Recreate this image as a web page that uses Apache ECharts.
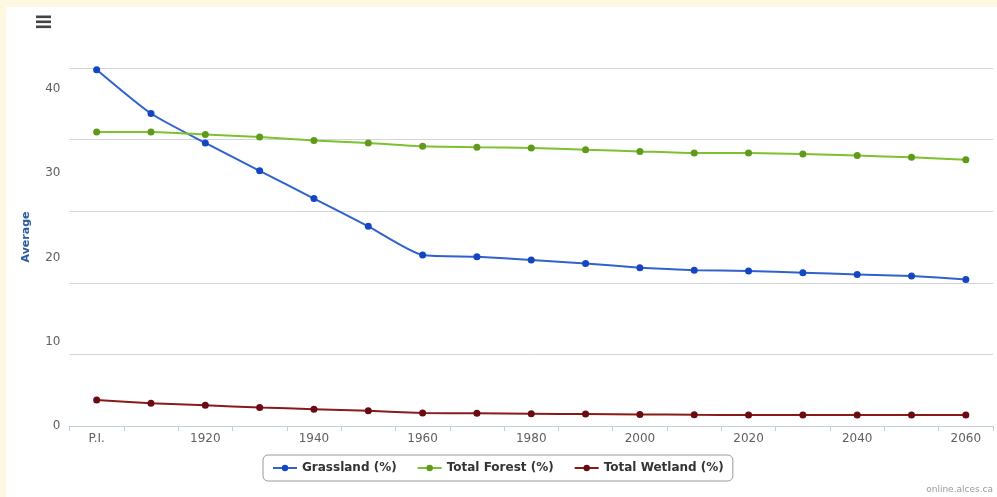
<!DOCTYPE html>
<html>
<head>
<meta charset="utf-8">
<script src="https://cdn.jsdelivr.net/npm/echarts@6/dist/echarts.min.js"></script>
<style>
html,body{margin:0;padding:0;background:#fdf8e2;}
#chart{width:997px;height:497px;}
</style>
</head>
<body>
<div id="chart"></div>
<script>
var categories = ['P.I.','1910','1920','1930','1940','1950','1960','1970','1980','1990','2000','2010','2020','2030','2040','2050','2060'];
var grassland = [42.3,37.1,33.6,30.3,27.0,23.7,20.3,20.1,19.7,19.3,18.8,18.5,18.4,18.2,18.0,17.8,17.4];
var forest = [34.9,34.9,34.6,34.3,33.9,33.6,33.2,33.1,33.0,32.8,32.6,32.4,32.4,32.3,32.1,31.9,31.6];
var wetland = [3.1,2.7,2.45,2.2,2.0,1.8,1.55,1.5,1.45,1.42,1.38,1.33,1.31,1.31,1.31,1.31,1.31];
var yTicks = [0,10,20,30,40];

var chart = echarts.init(document.getElementById('chart'), null, {renderer:'canvas'});
var font = 'DejaVu Sans';
chart.setOption({
  backgroundColor: '#fdf8e2',
  animation: false,
  graphic: [
    {type:'rect', z:-10, shape:{x:6,y:7,width:991,height:490}, style:{fill:'#ffffff'}},
    {type:'rect', shape:{x:36,y:15.5,width:15,height:2.6}, style:{fill:'#444'}},
    {type:'rect', shape:{x:36,y:20.5,width:15,height:2.6}, style:{fill:'#444'}},
    {type:'rect', shape:{x:36,y:25.5,width:15,height:2.6}, style:{fill:'#444'}},
    {type:'text', right:4, top:485, style:{text:'online.alces.ca', fill:'#9a9a9a', font:'9px ' + font}}
  ],
  grid: {left:69.5, right:4, top:68, bottom:71, containLabel:false},
  legend: {
    left: 263, top: 455,
    padding: [7, 9, 7, 9],
    borderColor: '#9a9a9a', borderWidth: 1, borderRadius: 5,
    backgroundColor: '#ffffff',
    itemGap: 20, itemWidth: 24, itemHeight: 8,
    textStyle: {fontFamily: font, fontWeight: 'bold', fontSize: 12, color: '#333'},
    data: ['Grassland (%)','Total Forest (%)','Total Wetland (%)']
  },
  xAxis: {
    type: 'category', data: categories, boundaryGap: true,
    axisLine: {lineStyle: {color: '#c0d0e0', width: 1}},
    axisTick: {show: true, interval: 0, length: 5, lineStyle: {color: '#c0d0e0'}},
    axisLabel: {interval: 1, color: '#606060', fontFamily: font, fontSize: 12, margin: 7},
    splitLine: {show: false}
  },
  yAxis: [
    {
      type: 'value', min: 0, max: 42.5, interval: 10,
      name: 'Average', nameLocation: 'middle', nameGap: 38, nameRotate: 90,
      nameTextStyle: {color: '#2a5b9c', fontFamily: font, fontWeight: 'bold', fontSize: 11, padding: [0,0,0,20]},
      axisLine: {show: false}, axisTick: {show: false},
      axisLabel: {color: '#606060', fontFamily: font, fontSize: 12, margin: 9,
        formatter: function(v){ return yTicks.indexOf(v) >= 0 ? String(v) : ''; }},
      splitLine: {show: false}
    },
    {
      type: 'value', min: 0, max: 5, interval: 1, position: 'left',
      axisLine: {show: false}, axisTick: {show: false}, axisLabel: {show: false},
      splitLine: {show: true, lineStyle: {color: '#d4d4d4', width: 1}}
    }
  ],
  series: [
    {name:'Grassland (%)', type:'line', data: grassland, yAxisIndex: 0, smooth: 0.2,
     symbol:'circle', symbolSize: 7, lineStyle:{color:'#2f62cc', width:2}, itemStyle:{color:'#1446c2'}},
    {name:'Total Forest (%)', type:'line', data: forest, yAxisIndex: 0, smooth: 0.2,
     symbol:'circle', symbolSize: 7, lineStyle:{color:'#7dc22c', width:2}, itemStyle:{color:'#5f9a1c'}},
    {name:'Total Wetland (%)', type:'line', data: wetland, yAxisIndex: 0, smooth: 0.2,
     symbol:'circle', symbolSize: 7, lineStyle:{color:'#8a1a1a', width:2}, itemStyle:{color:'#6a0a12'}}
  ]
});
</script>
</body>
</html>
